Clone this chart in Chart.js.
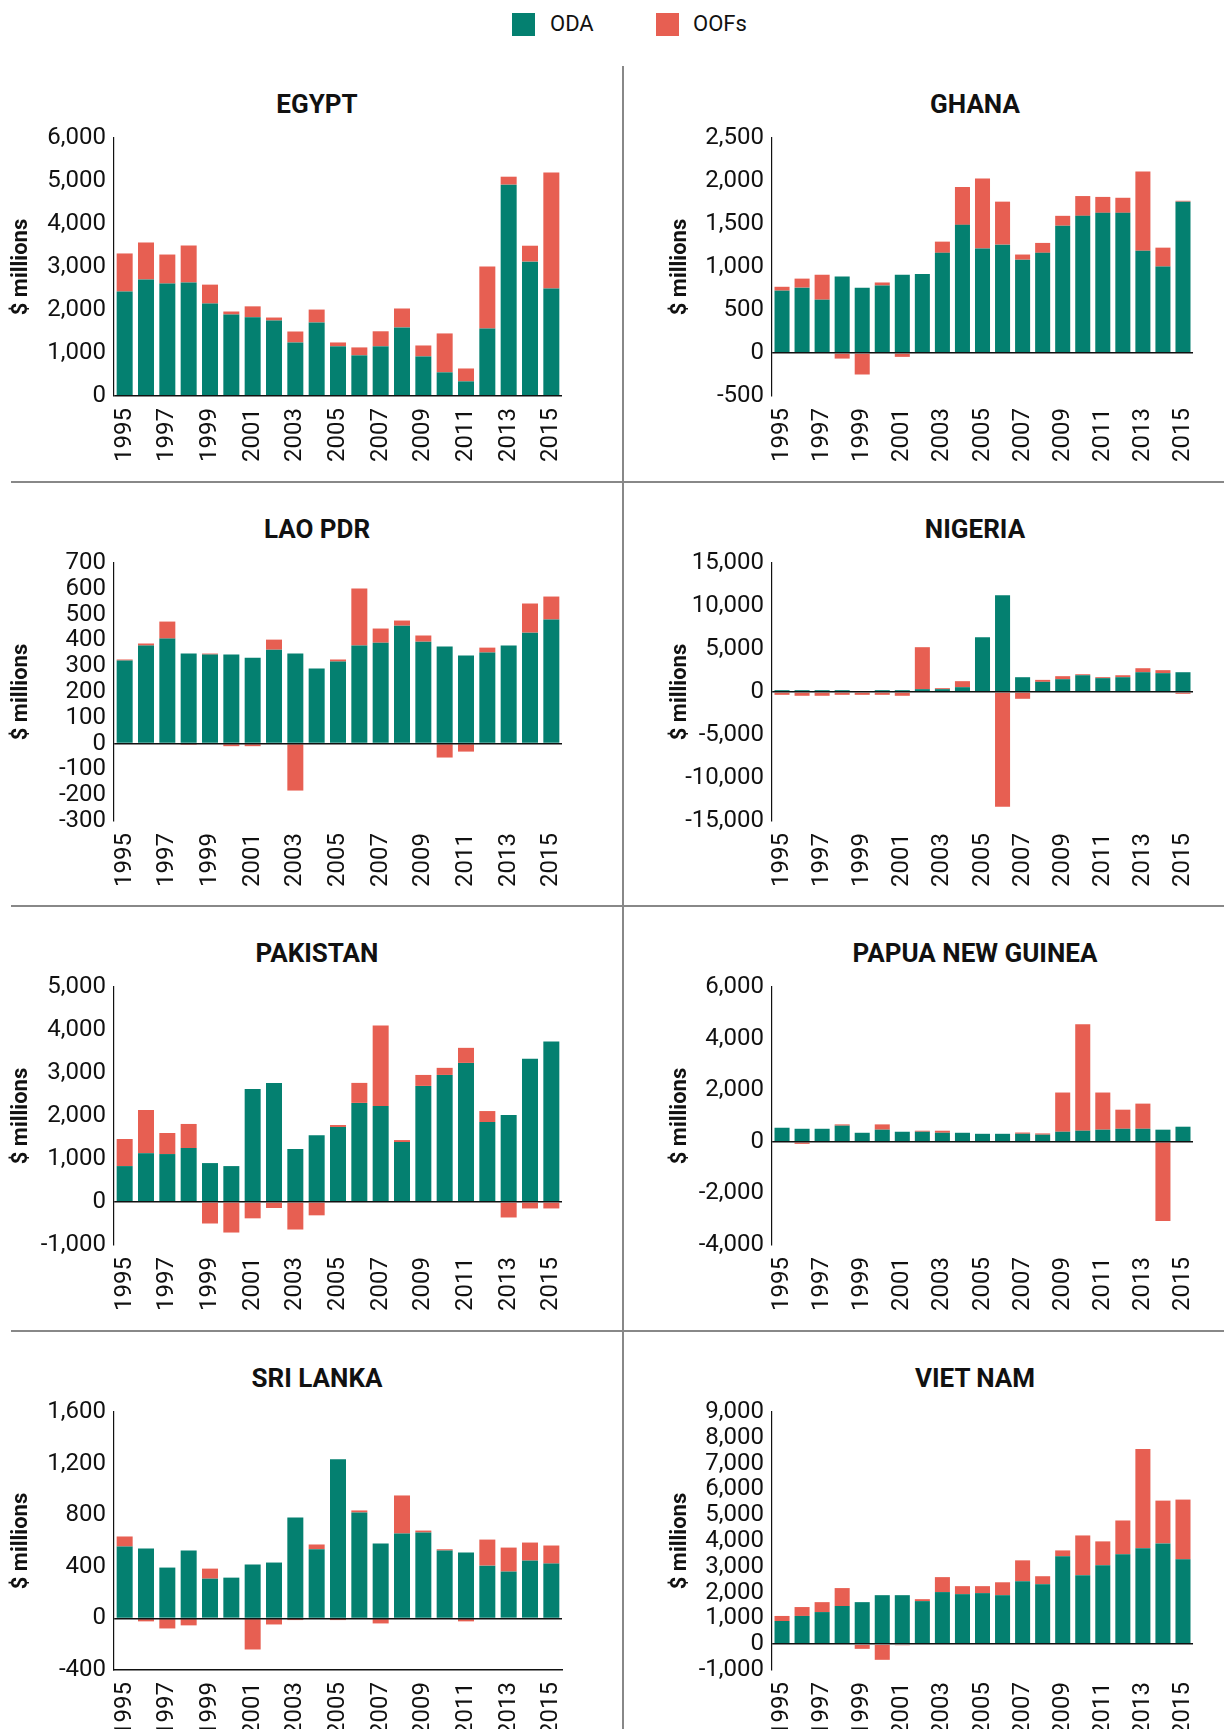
<!DOCTYPE html>
<html>
<head>
<meta charset="utf-8">
<script src="https://cdn.jsdelivr.net/npm/chart.js@4"></script>
<style>
  body { margin: 0; background: #fff; }
  #page { position: relative; width: 1224px; height: 1729px; overflow: hidden;
          font-family: Roboto, "DejaVu Sans Condensed", sans-serif; color: #111; }
  .title { position: absolute; width: 400px; text-align: center; font-weight: bold; font-size: 26px; line-height: 30px; }
  .panel { position: absolute; }
  .vline { position: absolute; left: 622px; top: 66px; width: 2px; height: 1663px; background: #888; }
  .hline { position: absolute; left: 11px; width: 1213px; height: 2px; background: #888; }
  .swatch { position: absolute; top: 13px; width: 23px; height: 23px; }
  .legtext { position: absolute; top: 10px; font-size: 22px; line-height: 28px; }
</style>
</head>
<body>
<div id="page">
  <div class="swatch" style="left:512px;background:#048070"></div>
  <div class="legtext" style="left:550px">ODA</div>
  <div class="swatch" style="left:656px;background:#e75f52"></div>
  <div class="legtext" style="left:693px">OOFs</div>
  <div class="vline"></div>
  <div class="hline" style="top:481px"></div>
  <div class="hline" style="top:905px"></div>
  <div class="hline" style="top:1330px"></div>
</div>
<script>
const years = ['1995', '1996', '1997', '1998', '1999', '2000', '2001', '2002', '2003', '2004', '2005',
  '2006', '2007', '2008', '2009', '2010', '2011', '2012', '2013', '2014', '2015']

const countries = ['EGYPT', 'GHANA', 'LAO PDR', 'NIGERIA', 'PAKISTAN', 'PAPUA NEW GUINEA', 'SRI LANKA', 'VIET NAM']

// ODA and OOFs, $ millions
const egyptOda = [2430, 2710, 2615, 2640, 2150, 1895, 1830, 1755, 1245, 1710, 1155, 945, 1155, 1595, 920, 550, 340, 1570, 4915, 3125, 2500]
const egyptOof = [885, 860, 675, 860, 440, 70, 255, 70, 255, 300, 90, 185, 350, 440, 255, 905, 300, 1440, 185, 370, 2695]

const ghanaOda = [725, 760, 620, 890, 760, 785, 910, 920, 1165, 1490, 1215, 1260, 1085, 1165, 1480, 1595, 1630, 1630, 1190, 1005, 1760]
const ghanaOof = [45, 105, 290, -65, -250, 35, -45, 0, 130, 440, 815, 500, 60, 115, 115, 230, 185, 175, 920, 220, 10]

const laoOda = [322, 380, 407, 349, 345, 345, 333, 364, 349, 291, 318, 380, 391, 457, 395, 376, 341, 353, 380, 430, 481]
const laoOof = [4, 8, 66, -5, 4, -10, -10, 39, -182, 0, 8, 221, 55, 20, 24, -54, -31, 19, 0, 113, 89]

const nigeriaOda = [210, 210, 210, 210, 100, 210, 210, 330, 330, 560, 6370, 11250, 1720, 1180, 1490, 1950, 1610, 1720, 2300, 2190, 2300]
const nigeriaOof = [-330, -440, -440, -330, -330, -330, -440, 4880, 115, 700, 0, -13340, -790, 230, 350, 115, 115, 230, 465, 350, -210]

const pakistanOda = [835, 1135, 1115, 1255, 905, 835, 2630, 2770, 1230, 1555, 1745, 2305, 2235, 1395, 2700, 2955, 3235, 1860, 2025, 3330, 3730]
const pakistanOof = [630, 1005, 490, 560, -500, -710, -380, -140, -640, -310, 45, 465, 1870, 45, 255, 165, 350, 255, -360, -150, -150]

const pngOda = [545, 505, 505, 625, 350, 470, 390, 390, 350, 350, 310, 310, 310, 275, 390, 430, 470, 505, 505, 470, 585]
const pngOof = [0, -80, 0, 50, 0, 205, 0, 40, 80, 0, 0, 0, 50, 50, 1520, 4130, 1440, 740, 975, -3065, 0]

const sriLankaOda = [557, 541, 394, 526, 308, 316, 417, 433, 782, 536, 1233, 821, 580, 658, 666, 526, 510, 409, 363, 448, 425]
const sriLankaOof = [78, -23, -78, -54, 78, 0, -241, -47, -13, 37, -13, 16, -39, 295, 15, 10, -23, 202, 186, 140, 140]

const vietNamOda = [900, 1095, 1245, 1480, 1630, 1900, 1900, 1670, 2020, 1940, 1980, 1900, 2440, 2325, 3405, 2675, 3060, 3485, 3715, 3905, 3290]
const vietNamOof = [195, 345, 385, 695, -180, -605, -40, 75, 580, 310, 270, 500, 810, 310, 230, 1540, 925, 1310, 3855, 1660, 2315]

// y axis ticks: [min, max, step]
const egyptTicks = [0, 6000, 1000]
const ghanaTicks = [-500, 2500, 500]
const laoTicks = [-300, 700, 100]
const nigeriaTicks = [-15000, 15000, 5000]
const pakistanTicks = [-1000, 5000, 1000]
const pngTicks = [-4000, 6000, 2000]
const sriLankaTicks = [-400, 1600, 400]
const vietNamTicks = [-1000, 9000, 1000]

const odaColor = '#048070'
const oofColor = '#e75f52'
const fontFamily = 'Roboto, "DejaVu Sans Condensed", sans-serif'

const page = document.getElementById('page')

function makePanel(i, name, oda, oof, ticks, bottomLine) {
  const col = i % 2
  const row = Math.floor(i / 2)
  const plotTop = Math.round(138 + row * 424.7)
  const left = col === 0 ? 0 : 659
  const width = col === 0 ? 612 : 565
  const axisWidth = col === 0 ? 114 : 113
  const padRight = col === 0 ? 50 : 9
  const padTop = 20
  const plotH = 258
  const xH = 70

  // title
  const t = document.createElement('div')
  t.className = 'title'
  t.textContent = name
  t.style.left = ((col === 0 ? 317 : 975) - 200) + 'px'
  t.style.top = Math.round(89 + row * 424.5) + 'px'
  page.appendChild(t)

  const box = document.createElement('div')
  box.className = 'panel'
  box.style.left = left + 'px'
  box.style.top = (plotTop - padTop) + 'px'
  const canvas = document.createElement('canvas')
  canvas.width = width
  canvas.height = padTop + plotH + xH
  box.appendChild(canvas)
  page.appendChild(box)

  new Chart(canvas, {
    type: 'bar',
    data: {
      labels: years,
      datasets: [
        { label: 'ODA', data: oda, backgroundColor: odaColor },
        { label: 'OOFs', data: oof, backgroundColor: oofColor }
      ]
    },
    options: {
      responsive: false,
      animation: false,
      layout: { padding: { top: padTop, right: padRight, left: 0, bottom: 0 } },
      datasets: { bar: { barPercentage: 0.75, categoryPercentage: 1 } },
      plugins: { legend: { display: false }, tooltip: { enabled: false } },
      scales: {
        x: {
          stacked: true,
          grid: { display: false, drawTicks: false },
          border: { display: bottomLine, color: '#111', width: 1.5, z: 1 },
          ticks: {
            autoSkip: false,
            minRotation: 90,
            maxRotation: 90,
            padding: 12,
            color: '#111',
            font: { family: fontFamily, size: 24 },
            callback: (v, idx) => idx % 2 === 0 ? years[idx] : ''
          },
          afterFit: (scale) => { scale.height = xH }
        },
        y: {
          stacked: true,
          min: ticks[0],
          max: ticks[1],
          grid: {
            z: 1,
            drawTicks: false,
            lineWidth: 1.5,
            color: (ctx) => ctx.tick && ctx.tick.value === 0 ? '#111' : 'rgba(0,0,0,0)'
          },
          border: { display: true, color: '#111', width: 1.2, z: 1 },
          ticks: {
            stepSize: ticks[2],
            autoSkip: false,
            padding: 8,
            color: '#111',
            font: { family: fontFamily, size: 24, lineHeight: 1 },
            callback: (v) => Number(v).toLocaleString('en-US')
          },
          title: {
            display: true,
            text: '$ millions',
            color: '#111',
            padding: { top: 8, bottom: 0 },
            font: { family: fontFamily, size: 22, weight: 'bold' }
          },
          afterFit: (scale) => { scale.width = axisWidth }
        }
      }
    }
  })
}

makePanel(0, countries[0], egyptOda, egyptOof, egyptTicks, false)
makePanel(1, countries[1], ghanaOda, ghanaOof, ghanaTicks, false)
makePanel(2, countries[2], laoOda, laoOof, laoTicks, false)
makePanel(3, countries[3], nigeriaOda, nigeriaOof, nigeriaTicks, false)
makePanel(4, countries[4], pakistanOda, pakistanOof, pakistanTicks, false)
makePanel(5, countries[5], pngOda, pngOof, pngTicks, false)
makePanel(6, countries[6], sriLankaOda, sriLankaOof, sriLankaTicks, true)
makePanel(7, countries[7], vietNamOda, vietNamOof, vietNamTicks, false)
</script>
</body>
</html>
